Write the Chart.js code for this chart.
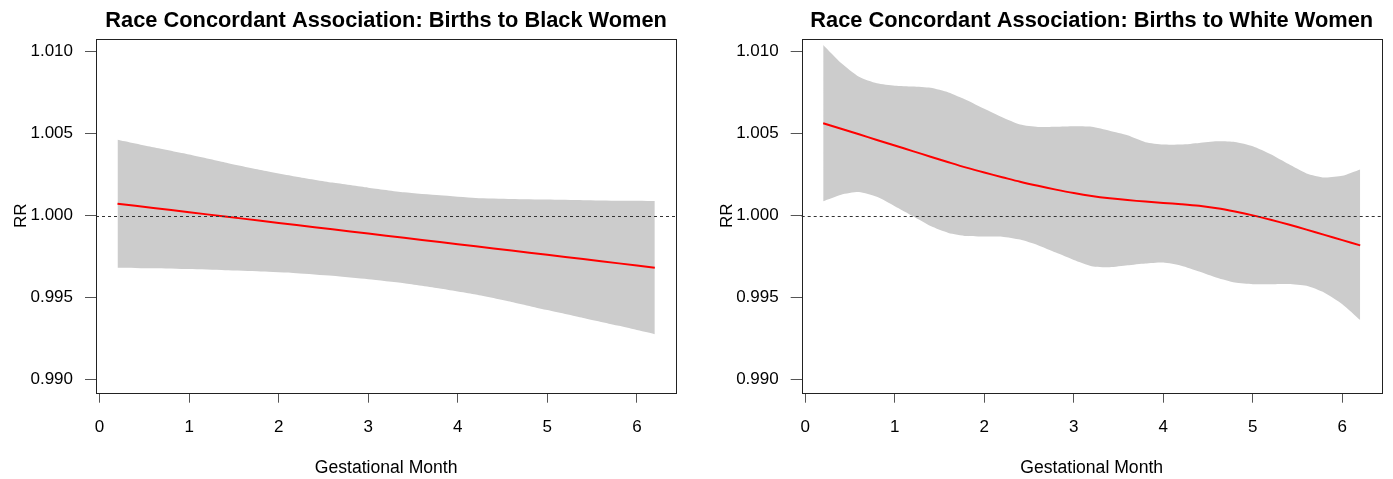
<!DOCTYPE html>
<html>
<head>
<meta charset="utf-8">
<script src="https://cdn.jsdelivr.net/npm/chart.js@4.4.0/dist/chart.umd.min.js"></script>
<style>
  html, body { margin: 0; padding: 0; background: #fff; }
  #wrap { position: relative; width: 1393px; height: 479px; }
  canvas { position: absolute; top: 0; }
</style>
</head>
<body>
<div id="wrap">
  <canvas id="black" width="697" height="479" style="left:0"></canvas>
  <canvas id="white" width="696" height="479" style="left:697px"></canvas>
</div>
<script>
// ── Data ───────────────────────────────────
const blackMonths = [0.2, 0.6, 1.0, 1.4, 1.8, 2.2, 2.6, 3.0, 3.4, 3.8, 4.2, 4.6, 5.0, 5.4, 5.8, 6.2];
const blackFit   = [1.00073, 1.00047, 1.00021, 0.99995, 0.99969, 0.99943, 0.99917, 0.99891, 0.99865, 0.99839, 0.99813, 0.99787, 0.99761, 0.99735, 0.99709, 0.99683];
const blackUpper = [1.00463, 1.00417, 1.00373, 1.00325, 1.00279, 1.00238, 1.00202, 1.00171, 1.00143, 1.00124, 1.00108, 1.00102, 1.00098, 1.00094, 1.00091, 1.00090];
const blackLower = [0.99683, 0.99679, 0.99674, 0.99667, 0.99660, 0.99649, 0.99633, 0.99612, 0.99588, 0.99556, 0.99519, 0.99474, 0.99424, 0.99376, 0.99328, 0.99277];

const whiteMonths = [0.2, 0.4, 0.6, 0.8, 1.0, 1.2, 1.4, 1.6, 1.8, 2.0, 2.2, 2.4, 2.6, 2.8, 3.0, 3.2, 3.4, 3.6, 3.8, 4.0, 4.2, 4.4, 4.6, 4.8, 5.0, 5.2, 5.4, 5.6, 5.8, 6.0, 6.2];
const whiteFit   = [1.00564, 1.00530, 1.00497, 1.00462, 1.00428, 1.00394, 1.00360, 1.00326, 1.00293, 1.00263, 1.00235, 1.00207, 1.00182, 1.00159, 1.00138, 1.00120, 1.00106, 1.00095, 1.00086, 1.00078, 1.00070, 1.00060, 1.00045, 1.00025, 1.00002, 0.99975, 0.99946, 0.99915, 0.99883, 0.99851, 0.99819];
const whiteUpper = [1.01042, 1.00932, 1.00848, 1.00808, 1.00793, 1.00788, 1.00780, 1.00752, 1.00706, 1.00652, 1.00600, 1.00556, 1.00541, 1.00542, 1.00545, 1.00542, 1.00518, 1.00490, 1.00448, 1.00434, 1.00434, 1.00444, 1.00454, 1.00450, 1.00424, 1.00375, 1.00315, 1.00258, 1.00233, 1.00243, 1.00282];
const whiteLower = [1.00088, 1.00128, 1.00144, 1.00115, 1.00058, 0.99998, 0.99937, 0.99895, 0.99876, 0.99873, 0.99872, 0.99854, 0.99820, 0.99775, 0.99730, 0.99692, 0.99685, 0.99697, 0.99708, 0.99714, 0.99695, 0.99660, 0.99622, 0.99592, 0.99582, 0.99582, 0.99583, 0.99572, 0.99530, 0.99460, 0.99363];

const xTickStep = 1;
const yTickStep = 0.005;
const refValue = 1;

const FONT = '"Liberation Sans", Arial, Helvetica, sans-serif';
const BAND = '#cccccc';
const FIT = '#ff0000';

// ── Box + reference line ───────────────────
const framePlugin = {
    id: 'frame',
    afterDatasetsDraw(chart) {
        const { ctx, chartArea: a, scales } = chart;
        const y = Math.round(scales.y.getPixelForValue(refValue)) + 0.5;
        ctx.save();
        ctx.strokeStyle = '#333';
        ctx.lineWidth = 1;
        ctx.setLineDash([3, 3]);
        ctx.beginPath();
        ctx.moveTo(a.left, y);
        ctx.lineTo(a.right, y);
        ctx.stroke();
        ctx.setLineDash([]);
        ctx.strokeStyle = '#222';
        ctx.strokeRect(Math.round(a.left) + 0.5, Math.round(a.top) + 0.5,
            Math.round(a.right - a.left), Math.round(a.bottom - a.top));
        ctx.restore();
    },
};

function pts(xs, ys) {
    return xs.map((x, i) => ({ x, y: ys[i] }));
}

function makePanel(id, title, months, fit, lower, upper, frame) {
    const datasets = [
        { data: pts(months, upper), borderWidth: 0, pointRadius: 0, fill: '+1', backgroundColor: BAND, tension: 0.2, order: 2 },
        { data: pts(months, lower), borderWidth: 0, pointRadius: 0, fill: false, tension: 0.2, order: 2 },
        { data: pts(months, fit), borderColor: FIT, borderWidth: 2, pointRadius: 0, fill: false, tension: 0.3, order: 0 },
    ];
    return new Chart(document.getElementById(id), {
        type: 'line',
        data: { datasets },
        plugins: [framePlugin],
        options: {
            responsive: false,
            animation: false,
            layout: { padding: { left: 0, top: 0, right: frame.padRight, bottom: 0 } },
            plugins: {
                legend: { display: false },
                tooltip: { enabled: false },
                title: {
                    display: true, text: title, fullSize: false, color: '#000',
                    font: { family: FONT, size: 21.8, weight: 'bold' },
                    padding: { top: 8, bottom: 4.5 },
                },
            },
            scales: {
                x: {
                    type: 'linear', min: -0.04, max: 6.44,
                    ticks: { stepSize: xTickStep, includeBounds: false, color: '#000', font: { family: FONT, size: 17 }, padding: 14, maxRotation: 0 },
                    grid: { drawOnChartArea: false, drawTicks: true, tickLength: 10, tickColor: '#555' },
                    border: { display: false },
                    title: { display: true, text: 'Gestational Month', color: '#000', font: { family: FONT, size: 17.6 }, padding: { top: 0, bottom: 0 } },
                    afterFit: s => { s.height = 86.3; },
                },
                y: {
                    type: 'linear', min: 0.9892, max: 1.0108,
                    ticks: { stepSize: yTickStep, includeBounds: false, color: '#000', font: { family: FONT, size: 17 }, padding: 12, callback: v => v.toFixed(3) },
                    grid: { drawOnChartArea: false, drawTicks: true, tickLength: 11, tickColor: '#555' },
                    border: { display: false },
                    title: { display: true, text: 'RR', color: '#000', font: { family: FONT, size: 17 }, padding: { top: frame.yTitlePad, bottom: 0 } },
                    afterFit: s => { s.width = frame.yWidth; },
                },
            },
        },
    });
}

makePanel('black', 'Race Concordant Association: Births to Black Women',
    blackMonths, blackFit, blackLower, blackUpper, { yWidth: 96, padRight: 20.7, yTitlePad: 11.4 });
makePanel('white', 'Race Concordant Association: Births to White Women',
    whiteMonths, whiteFit, whiteLower, whiteUpper, { yWidth: 104.7, padRight: 11.3, yTitlePad: 20.4 });
</script>
</body>
</html>
